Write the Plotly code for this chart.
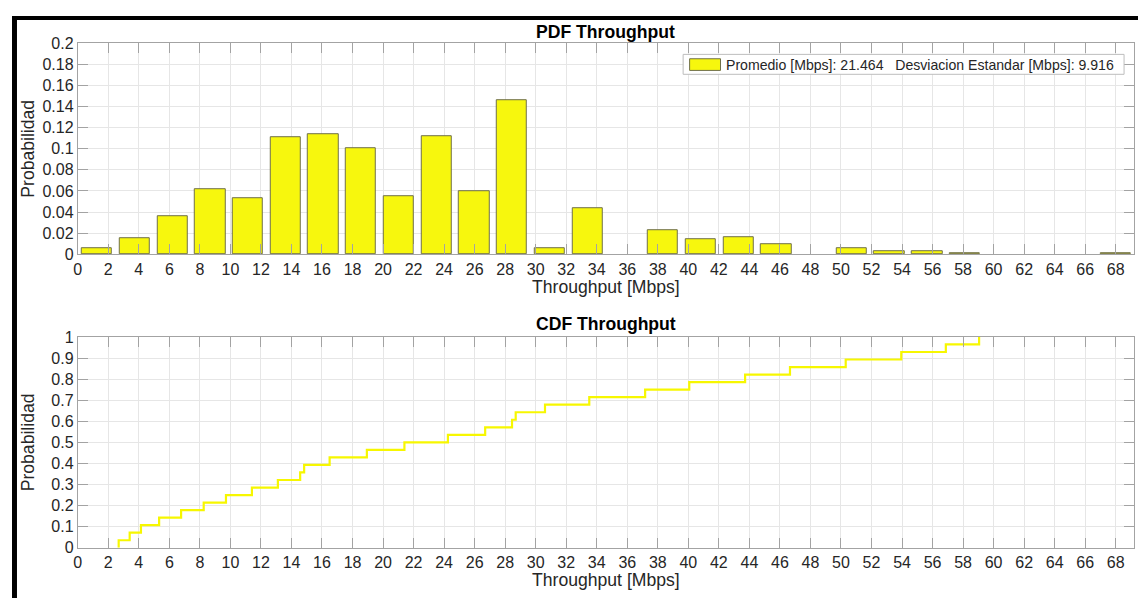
import plotly.graph_objects as go

# ---------------- data ----------------
bin_centers = [1.26, 3.73, 6.20, 8.68, 11.15, 13.62, 16.09, 18.56, 21.04, 23.51,
               25.98, 28.45, 30.93, 33.40, 35.87, 38.34, 40.81, 43.29, 45.76, 48.23,
               50.70, 53.17, 55.65, 58.12, 60.59, 63.06, 65.54, 68.01]
pdf_values = [0.0061, 0.0153, 0.0359, 0.0613, 0.0534, 0.1113, 0.1138, 0.1006, 0.0546, 0.1117,
              0.0598, 0.1457, 0.0055, 0.0433, 0.0, 0.0230, 0.0147, 0.0160, 0.0092, 0.0,
              0.0061, 0.0028, 0.0025, 0.0012, 0.0, 0.0, 0.0, 0.0012]

cdf_samples = [2.68, 3.40, 4.14, 5.33, 6.77, 8.25, 9.71, 11.41, 13.11, 14.57,
               14.83, 16.50, 18.94, 21.40, 24.25, 26.69, 28.45, 28.69, 30.61, 33.51,
               37.17, 40.06, 43.72, 46.66, 50.31, 53.95, 56.87, 59.05]

x_ticks = list(range(0, 70, 2))
pdf_yticks = [0, 0.02, 0.04, 0.06, 0.08, 0.1, 0.12, 0.14, 0.16, 0.18, 0.2]
cdf_yticks = [0, 0.1, 0.2, 0.3, 0.4, 0.5, 0.6, 0.7, 0.8, 0.9, 1]

mean_txt = "21.464"
std_txt = "9.916"
legend_label = ("Promedio [Mbps]: " + mean_txt +
                "\u00a0\u00a0\u00a0Desviacion Estandar [Mbps]: " + std_txt)

# empirical CDF from the samples
n = len(cdf_samples)
ecdf_x = [cdf_samples[0]] + cdf_samples
ecdf_y = [0.0] + [(i + 1) / n for i in range(n)]

# ---------------- geometry (page body has an 8px margin) ----------------
OFF = 8
W, H = 1146 - OFF, 607 - OFF

def px_x(p):
    return (p - OFF) / W

def px_y(p):
    return (H - (p - OFF)) / H

FONT = "Liberation Sans, Arial, Helvetica, sans-serif"
TXT = "#262626"
AXC = "#a3a3a3"
GRID = "#e6e6e6"
BAR_FILL = "#f7f70d"
BAR_EDGE = "#6f6f4a"

fig = go.Figure()

fig.add_trace(go.Bar(
    x=bin_centers, y=pdf_values, width=1.98,
    marker=dict(color=BAR_FILL,
                line=dict(color=BAR_EDGE, width=[1 if v > 0 else 0 for v in pdf_values])),
    name=legend_label, xaxis="x", yaxis="y", showlegend=False,
))

fig.add_trace(go.Scatter(
    x=ecdf_x, y=ecdf_y, mode="lines", line=dict(color="#f7f700", width=2.2, shape="hv"),
    xaxis="x2", yaxis="y2", showlegend=False,
))

xdom = [px_x(74), px_x(1134)]
axis_common = dict(
    showline=True, linecolor=AXC, linewidth=1, mirror="ticks",
    ticks="inside", ticklen=10, tickcolor=AXC, tickwidth=1,
    showgrid=True, gridcolor=GRID, gridwidth=1, zeroline=False,
    tickfont=dict(family=FONT, size=16, color=TXT),
)

fig.update_layout(
    width=W, height=H,
    margin=dict(l=0, r=0, t=0, b=0),
    paper_bgcolor="white", plot_bgcolor="white",
    bargap=0, showlegend=False,
    xaxis=dict(domain=xdom, range=[0, 69.2], tickvals=x_ticks, anchor="y", **axis_common),
    yaxis=dict(domain=[px_y(253.3), px_y(36)], range=[0, 0.2], tickvals=pdf_yticks,
               anchor="x", **axis_common),
    xaxis2=dict(domain=xdom, range=[0, 69.2], tickvals=x_ticks, anchor="y2", **axis_common),
    yaxis2=dict(domain=[px_y(555.3), px_y(338.3)], range=[0, 1], tickvals=cdf_yticks,
                anchor="x2", **axis_common),
)

xc = (px_x(74) + px_x(1134)) / 2
ann = []
def add_text(text, x, y, size, angle=0, color=TXT, xanchor="center"):
    ann.append(dict(text=text, x=x, y=y, xref="paper", yref="paper",
                    xanchor=xanchor, yanchor="middle", showarrow=False,
                    textangle=angle, font=dict(family=FONT, size=size, color=color)))

add_text("<b>PDF Throughput</b>", xc, px_y(24), 17.6, color="black")
add_text("Throughput [Mbps]", xc, px_y(287), 17.6)
add_text("Probabilidad", px_x(24), px_y((36 + 253.3) / 2), 17.6, angle=-90)
add_text("<b>CDF Throughput</b>", xc, px_y(325), 17.6, color="black")
add_text("Throughput [Mbps]", xc, px_y(588), 17.6)
add_text("Probabilidad", px_x(24), px_y((338.3 + 555.3) / 2), 17.6, angle=-90)

# legend box (MATLAB style: wide patch + label)
fig.add_shape(type="rect", xref="paper", yref="paper",
              x0=px_x(681.5), x1=px_x(1124), y0=px_y(68), y1=px_y(47.5),
              fillcolor="white", line=dict(color="#bdbdbd", width=1), layer="above")
fig.add_shape(type="rect", xref="paper", yref="paper",
              x0=px_x(688), x1=px_x(719), y0=px_y(64), y1=px_y(52),
              fillcolor=BAR_FILL, line=dict(color=BAR_EDGE, width=1), layer="above")
add_text(legend_label, px_x(723), px_y(58), 14.1, xanchor="left")

fig.update_layout(annotations=ann)

# black frame at top and left edges of the picture
fig.add_shape(type="rect", xref="paper", yref="paper",
              x0=0.0, x1=1.0, y0=px_y(12), y1=1.0,
              fillcolor="black", line=dict(width=0), layer="above")
fig.add_shape(type="rect", xref="paper", yref="paper",
              x0=0.0, x1=px_x(13), y0=0.0, y1=1.0,
              fillcolor="black", line=dict(width=0), layer="above")

fig.write_html("out.html")
